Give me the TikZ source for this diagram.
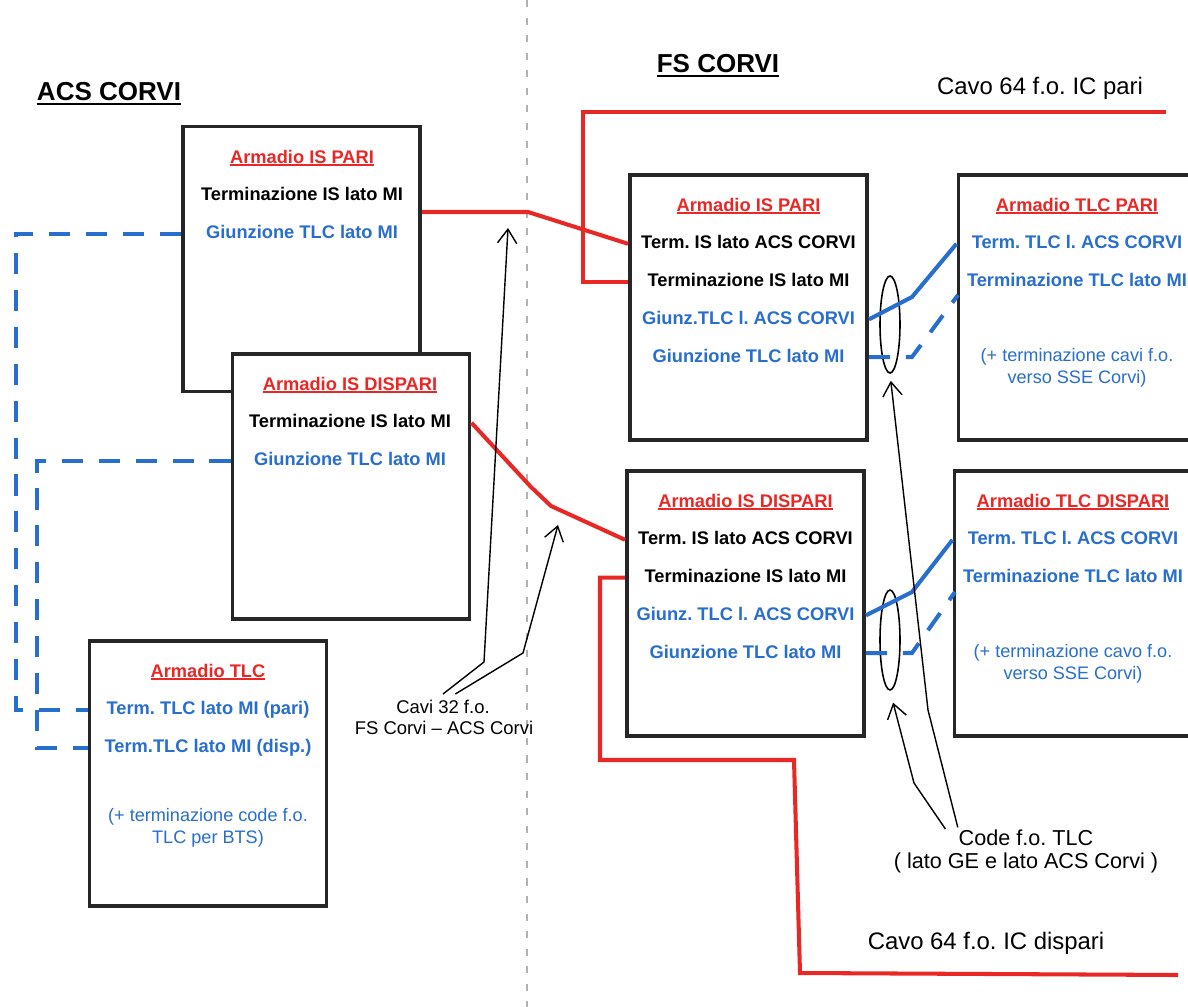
\documentclass[tikz,border=0pt]{standalone}
\usepackage{fontspec}
\setmainfont{Liberation Sans}
\usetikzlibrary{shapes.geometric,arrows.meta}
\definecolor{cavored}{RGB}{233,40,38}
\definecolor{tlcblue}{RGB}{40,110,205}
\definecolor{boxgray}{RGB}{38,38,38}
\newcommand{\undl}[1]{\setbox0\hbox{#1}\rlap{\rule[-.17em]{\wd0}{.1em}}\box0}
\frenchspacing

\begin{document}
\begin{tikzpicture}[x=0.02cm,y=-0.02cm,node distance=0.756cm]
\tikzstyle{box}=[draw=boxgray,line width=2pt,fill=white,minimum width=4.75cm,minimum height=5.3cm]
\tikzstyle{ttl}=[text=cavored,font=\fontsize{10.4}{12}\selectfont\bfseries,text height=1.6ex,text depth=.5ex,inner sep=1pt]
\tikzstyle{blk}=[ttl,text=black]
\tikzstyle{blu}=[ttl,text=tlcblue]
\tikzstyle{note}=[text=tlcblue,font=\fontsize{10.3}{12.3}\selectfont,align=center]
\tikzstyle{lbl}=[font=\fontsize{13.6}{15}\selectfont]
\tikzstyle{small}=[font=\fontsize{10.5}{12}\selectfont]
\tikzstyle{code}=[font=\fontsize{12.3}{14}\selectfont]
\tikzstyle{cavo}=[draw=cavored,line width=2.3pt]
\tikzstyle{tlc}=[draw=tlcblue,line width=2.3pt]
\tikzstyle{tlcdash}=[tlc,dash pattern=on 12pt off 9pt]
\tikzstyle{pfeil}=[draw=black,line width=.8pt,-{Straight Barb[length=8pt,width=11pt]}]
\tikzstyle{ring}=[draw=black,line width=.9pt,ellipse,inner sep=0pt,minimum width=0.4cm]
\useasboundingbox (0,0) rectangle (1188,1007);

\coordinate (m1) at (527,0);
\coordinate (m2) at (527,1007);
\draw[gray!60,line width=1.6pt,dash pattern=on 4pt off 6pt] (m1) -- (m2);

\node[font=\fontsize{14.8}{17}\selectfont\bfseries] (acs) at (109,94) {\undl{ACS CORVI}};
\node[font=\fontsize{14.8}{17}\selectfont\bfseries] (fs) at (718,66) {\undl{FS CORVI}};

\node[box] (acspari) at (301.5,259) {};
\node[ttl] (a1) at (302,158) {\undl{Armadio IS PARI}};
\node[blk,below of=a1] (a2) {Terminazione IS lato MI};
\node[blu,below of=a2] (a3) {Giunzione TLC lato MI};

\node[box] (acsdispari) at (351,486.5) {};
\node[ttl] (b1) at (350,385) {\undl{Armadio IS DISPARI}};
\node[blk,below of=b1] (b2) {Terminazione IS lato MI};
\node[blu,below of=b2] (b3) {Giunzione TLC lato MI};

\node[box] (acstlc) at (208,773.5) {};
\node[ttl] (c1) at (208,672) {\undl{Armadio TLC}};
\node[blu,below of=c1] (c2) {Term. TLC lato MI (pari)};
\node[blu,below of=c2] (c3) {Term.TLC lato MI (disp.)};
\node[note] (c4) at (208,828) {(+ terminazione code f.o.\\TLC per BTS)};

\node[box] (fsispari) at (748.5,307.5) {};
\node[ttl] (d1) at (748.5,206) {\undl{Armadio IS PARI}};
\node[blk,below of=d1] (d2) {Term. IS lato ACS CORVI};
\node[blk,below of=d2] (d3) {Terminazione IS lato MI};
\node[blu,below of=d3] (d4) {Giunz.TLC l. ACS CORVI};
\node[blu,below of=d4] (d5) {Giunzione TLC lato MI};

\node[box] (fstlcpari) at (1077,307.5) {};
\node[ttl] (e1) at (1077,206) {\undl{Armadio TLC PARI}};
\node[blu,below of=e1] (e2) {Term. TLC l. ACS CORVI};
\node[blu,below of=e2] (e3) {Terminazione TLC lato MI};
\node[note] (e4) at (1077,368) {(+ terminazione cavi f.o.\\verso SSE Corvi)};

\node[box] (fsisdispari) at (745.5,603.5) {};
\node[ttl] (f1) at (745.5,502) {\undl{Armadio IS DISPARI}};
\node[blk,below of=f1] (f2) {Term. IS lato ACS CORVI};
\node[blk,below of=f2] (f3) {Terminazione IS lato MI};
\node[blu,below of=f3] (f4) {Giunz. TLC l. ACS CORVI};
\node[blu,below of=f4] (f5) {Giunzione TLC lato MI};

\node[box] (fstlcdispari) at (1073,603.5) {};
\node[ttl] (g1) at (1073,502) {\undl{Armadio TLC DISPARI}};
\node[blu,below of=g1] (g2) {Term. TLC l. ACS CORVI};
\node[blu,below of=g2] (g3) {Terminazione TLC lato MI};
\node[note] (g4) at (1073,664) {(+ terminazione cavo f.o.\\verso SSE Corvi)};

\node[lbl] (icpari) at (1040,88) {Cavo 64 f.o. IC pari};
\node[lbl] (icdispari) at (986,943) {Cavo 64 f.o. IC dispari};
\node[small] (cavia) at (443,707) {Cavi 32 f.o.};
\node[small] (cavib) at (444,728) {FS Corvi -- ACS Corvi};
\node[code] (codea) at (1026,838) {Code f.o. TLC};
\node[code] (codeb) at (1026,863) {( lato GE e lato ACS Corvi )};

\node[ring,minimum height=1.94cm] (el1) at (890,324.5) {};
\node[ring,minimum height=2cm] (el2) at (890,640) {};

\coordinate (r1) at (528,212);
\coordinate (r2) at (531,487);
\coordinate (r3) at (551,506);
\coordinate (r4) at (1166,112);
\coordinate (r5) at (583,112);
\coordinate (r6) at (600,760);
\coordinate (r7) at (794,760);
\coordinate (r8) at (800,973);
\coordinate (r9) at (1178,975);
\coordinate (k1) at (912,297);
\coordinate (k2) at (912,357);
\coordinate (k3) at (958,295);
\coordinate (k4) at (912,592);
\coordinate (k5) at (912,653);
\coordinate (k6) at (955,592);
\coordinate (k7) at (16,0);
\coordinate (k8) at (37,0);
\coordinate (t1) at (508,228);
\coordinate (t2) at (558,525);
\coordinate (p1) at (484,662);
\coordinate (p2) at (523,653);
\coordinate (p3) at (914,783);
\coordinate (p4) at (928,710);

\draw[cavo] (acspari.east |- r1) -- (r1) -- (fsispari.west |- d2);
\draw[cavo] (acsdispari.east |- b2) -- (r2) -- (r3) -- (fsisdispari.west |- f2);
\draw[cavo] (r4) -- (r5) |- (fsispari.west |- d3);
\draw[cavo] (fsisdispari.west |- f3) -| (r6) -- (r7) -- (r8) -- (r9);
\draw[tlc] (fsispari.east |- d4) -- (k1) -- (fstlcpari.west |- e2);
\draw[tlcdash] (fsispari.east |- d5) -- (k2) -- (k3);
\draw[tlc] (fsisdispari.east |- f4) -- (k4) -- (fstlcdispari.west |- g2);
\draw[tlcdash] (fsisdispari.east |- f5) -- (k5) -- (k6);
\draw[tlcdash] (acspari.west |- a3) -| (k7 |- c2) -- (acstlc.west |- c2);
\draw[tlcdash] (acsdispari.west |- b3) -| (k8 |- c3) -- (acstlc.west |- c3);
\draw[pfeil] (cavia.north) -- (p1) -- (t1);
\draw[pfeil] ([xshift=7pt]cavia.north) -- (p2) -- (t2);
\draw[pfeil,shorten >=7pt] ([xshift=-4pt,yshift=-3pt]codea.north west) -- (p3) -- (el2.south);
\draw[pfeil,shorten >=4pt] ([xshift=3pt,yshift=-2pt]codea.north west) -- (p4) -- (el1.south);
\end{tikzpicture}
\end{document}
